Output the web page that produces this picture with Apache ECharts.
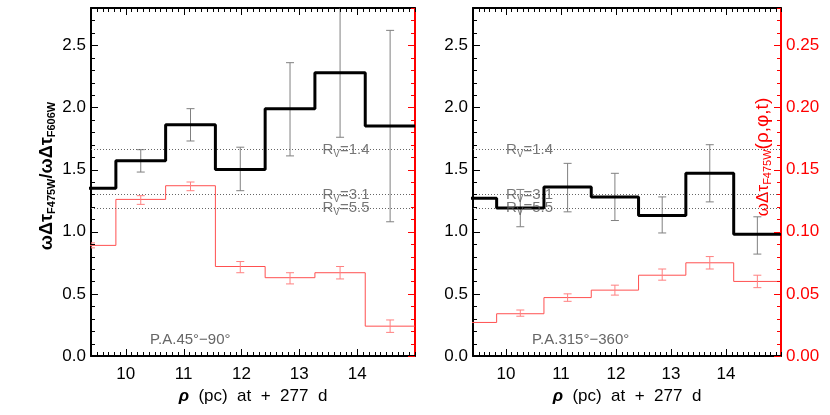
<!DOCTYPE html>
<html>
<head>
<meta charset="utf-8">
<script src="https://cdn.jsdelivr.net/npm/echarts@6/dist/echarts.min.js"></script>
<style>
  html, body { margin: 0; padding: 0; background: #fff; }
  #chart { width: 830px; height: 415px; }
</style>
</head>
<body>
<div id="chart"></div>
<script>
// radial bins (pc), edges of the histogram
const binEdges = [8.97, 9.83, 10.69, 11.55, 12.41, 13.27, 14.14, 15.0];

// P.A. 45-90 (left panel)
const ratioA = [1.35, 1.57, 1.86, 1.50, 1.99, 2.28, 1.85];
const ratioALo = [null, 1.48, 1.73, 1.33, 1.61, 1.76, 1.08];
const ratioAHi = [null, 1.66, 1.99, 1.68, 2.36, 2.85, 2.62];
const tauA = [0.089, 0.126, 0.137, 0.072, 0.063, 0.067, 0.024];
const tauALo = [0.087, 0.122, 0.133, 0.067, 0.058, 0.062, 0.019];
const tauAHi = [0.091, 0.129, 0.140, 0.076, 0.067, 0.072, 0.029];

// P.A. 315-360 (right panel)
const ratioB = [1.27, 1.19, 1.36, 1.28, 1.13, 1.47, 0.98];
const ratioBLo = [null, 1.04, 1.16, 1.09, 0.99, 1.24, 0.82];
const ratioBHi = [null, 1.34, 1.55, 1.47, 1.28, 1.70, 1.12];
const tauB = [0.027, 0.034, 0.047, 0.053, 0.065, 0.075, 0.060];
const tauBLo = [null, 0.032, 0.044, 0.049, 0.061, 0.070, 0.055];
const tauBHi = [null, 0.037, 0.050, 0.057, 0.070, 0.080, 0.065];

// extinction law reference ratios
const rvValues = [1.66, 1.30, 1.19];
const rvNames = ['1.4', '3.1', '5.5'];

// axes
const xMin = 9.4, xMax = 15;
const xTicks = [10, 11, 12, 13, 14];
const yMax = 2.8, redMax = 0.28;
const FONT = 'Liberation Sans, Arial, sans-serif';

// tick positions (major + minor)
const range = (a, b, s) => { const r = []; for (let k = Math.round(a / s); k <= Math.round(b / s); k++) r.push(+(k * s).toFixed(4)); return r; };
const xMinorTicks = range(xMin, xMax, 0.1);
const yMinorTicks = range(0, yMax, 0.1);
const yMajorTicks = range(0, 2.5, 0.5);
const redMinorTicks = range(0, redMax, 0.01);
const redMajorTicks = range(0, 0.25, 0.05);

const chart = echarts.init(document.getElementById('chart'), null, { renderer: 'canvas' });

function stepData(vals) {
  const d = vals.map((v, i) => [binEdges[i], v]);
  d.push([binEdges[binEdges.length - 1], vals[vals.length - 1]]);
  return d;
}
function errData(lo, hi) {
  const out = [];
  lo.forEach((l, i) => {
    if (l != null) out.push([(binEdges[i] + binEdges[i + 1]) / 2, l, hi[i]]);
  });
  return out;
}
function errRender(color) {
  return function (params, api) {
    const x = api.value(0);
    const a = api.coord([x, api.value(1)]);
    const b = api.coord([x, api.value(2)]);
    const w = 4;
    const st = { stroke: color, lineWidth: 1 };
    return {
      type: 'group',
      children: [
        { type: 'line', shape: { x1: a[0], y1: a[1], x2: b[0], y2: b[1] }, style: st },
        { type: 'line', shape: { x1: a[0] - w, y1: a[1], x2: a[0] + w, y2: a[1] }, style: st },
        { type: 'line', shape: { x1: b[0] - w, y1: b[1], x2: b[0] + w, y2: b[1] }, style: st }
      ]
    };
  };
}

const grids = [
  { left: 91, top: 8, width: 324, height: 348 },
  { left: 473, top: 8, width: 308, height: 348 }
];

const xAxes = [];
const yAxes = [];
grids.forEach((g, gi) => {
  xAxes.push({
    gridIndex: gi, type: 'value', min: xMin, max: xMax, position: 'bottom',
    splitLine: { show: false },
    axisLine: { show: true, onZero: false, lineStyle: { color: '#000', width: 2 } },
    axisTick: { show: false },
    axisLabel: { customValues: xTicks, color: '#000', fontSize: 17, fontFamily: FONT, margin: 10 },
    name: '{b|ρ}  (pc)  at  +  277  d',
    nameLocation: 'middle', nameGap: 30,
    nameTextStyle: {
      color: '#000', fontSize: 17, fontFamily: FONT,
      rich: { b: { fontSize: 17, fontWeight: 'bold', fontStyle: 'italic', fontFamily: FONT, color: '#000' } }
    }
  });
  xAxes.push({
    gridIndex: gi, type: 'value', min: xMin, max: xMax, position: 'top',
    splitLine: { show: false },
    axisLine: { show: true, onZero: false, lineStyle: { color: '#000', width: 2 } },
    axisTick: { show: false },
    axisLabel: { show: false }
  });
  yAxes.push({
    gridIndex: gi, type: 'value', position: 'left', min: 0, max: yMax, interval: 0.5,
    splitLine: { show: false },
    axisLine: { show: true, onZero: false, lineStyle: { color: '#000', width: 2 } },
    axisTick: { show: false },
    axisLabel: {
      color: '#000', fontSize: 17, fontFamily: FONT, margin: 5, showMaxLabel: false,
      formatter: v => v.toFixed(1)
    }
  });
  yAxes.push({
    gridIndex: gi, type: 'value', position: 'right', min: 0, max: redMax, interval: 0.05,
    splitLine: { show: false },
    axisLine: { show: true, onZero: false, lineStyle: { color: '#ff0000', width: 2 } },
    axisTick: { show: false },
    axisLabel: {
      show: gi === 1, color: '#ff0000', fontSize: 17, fontFamily: FONT, margin: 5, showMaxLabel: false,
      formatter: v => v.toFixed(2)
    }
  });
});

const rvRich = {
  r: { fontSize: 15, fontFamily: FONT, color: '#555' },
  v: { fontSize: 10, fontFamily: FONT, color: '#555', padding: [9, 0, 0, 0] }
};

function panelSeries(gi, ratio, rLo, rHi, tau, tLo, tHi, rvX) {
  const xi = gi * 2, yl = gi * 2, yr = gi * 2 + 1;
  return [
    {
      type: 'line', xAxisIndex: xi, yAxisIndex: yl, step: 'end',
      data: stepData(ratio), symbol: 'none',
      lineStyle: { color: '#000', width: 3 },
      z: 5,
      markLine: {
        silent: true, symbol: ['none', 'none'], label: { show: false },
        lineStyle: { color: '#666', type: [1, 2], width: 1 },
        data: rvValues.map(v => ({ yAxis: v }))
      }
    },
    {
      type: 'line', xAxisIndex: xi, yAxisIndex: yr, step: 'end',
      data: stepData(tau), symbol: 'none',
      lineStyle: { color: '#ff5050', width: 1 }, z: 3
    },
    {
      type: 'custom', xAxisIndex: xi, yAxisIndex: yl, clip: true,
      data: errData(rLo, rHi), renderItem: errRender('#808080'), z: 4
    },
    {
      type: 'custom', xAxisIndex: xi, yAxisIndex: yr, clip: true,
      data: errData(tLo, tHi), renderItem: errRender('#ff8080'), z: 4
    },
    {
      type: 'scatter', xAxisIndex: xi, yAxisIndex: yl, symbolSize: 0, silent: true,
      data: rvValues.map((v, i) => [rvX, v, rvNames[i]]),
      label: {
        show: true, position: 'right', distance: 0,
        formatter: p => '{r|R}{v|V}{r|=' + p.data[2] + '}',
        rich: rvRich
      },
      z: 6
    }
  ];
}

const series = [].concat(
  panelSeries(0, ratioA, ratioALo, ratioAHi, tauA, tauALo, tauAHi, 13.4),
  panelSeries(1, ratioB, ratioBLo, ratioBHi, tauB, tauBLo, tauBHi, 10.0)
);

chart.setOption({
  backgroundColor: '#fff',
  animation: false,
  grid: grids,
  xAxis: xAxes,
  yAxis: yAxes,
  series: series
});

// text annotations
const texts = [
  {
    type: 'text', x: 150, y: 340,
    style: { text: 'P.A.45°−90°', fill: '#666', font: '15px ' + FONT, verticalAlign: 'middle' }
  },
  {
    type: 'text', x: 532, y: 340,
    style: { text: 'P.A.315°−360°', fill: '#666', font: '15px ' + FONT, verticalAlign: 'middle' }
  },
  {
    type: 'text', x: 47, y: 176, rotation: Math.PI / 2,
    style: {
      text: '{m|ωΔτ}{s|F475W}{m|/ωΔτ}{s|F606W}',
      align: 'center', verticalAlign: 'middle',
      rich: {
        m: { fontSize: 18, fontWeight: 'bold', fontFamily: FONT, fill: '#000', color: '#000' },
        s: { fontSize: 11, fontWeight: 'bold', fontFamily: FONT, fill: '#000', color: '#000', padding: [9, 0, 0, 0] }
      }
    }
  },
  {
    type: 'text', x: 763, y: 157, rotation: Math.PI / 2,
    style: {
      text: '{m|ωΔτ}{s|F475W}{p|(ρ,φ,t)}',
      align: 'center', verticalAlign: 'middle',
      rich: {
        m: { fontSize: 17, fontFamily: FONT, fill: '#ff0000', color: '#ff0000' },
        s: { fontSize: 11, fontFamily: FONT, fill: '#ff0000', color: '#ff0000', padding: [9, 0, 0, 0] },
        p: { fontSize: 19, fontFamily: FONT, fill: '#ff0000', color: '#ff0000' }
      }
    }
  }
];

// inward tick marks, placed through the axes' own scales
const ticks = [];
function tickLine(x1, y1, x2, y2, color) {
  ticks.push({ type: 'line', z: 100, silent: true,
    shape: { x1: x1, y1: y1, x2: x2, y2: y2 }, style: { stroke: color, lineWidth: 1 } });
}
grids.forEach((g, gi) => {
  const yb = g.top + g.height, yt = g.top;
  const xl = g.left, xr = g.left + g.width;
  xMinorTicks.forEach(v => {
    const isMajor = xTicks.indexOf(v) >= 0;
    const len = isMajor ? 7 : 4;
    const px = Math.round(chart.convertToPixel({ xAxisIndex: gi * 2 }, v)) + 0.5;
    tickLine(px, yb, px, yb - len, '#000');
    tickLine(px, yt, px, yt + len, '#000');
  });
  yMinorTicks.forEach(v => {
    const len = yMajorTicks.indexOf(v) >= 0 ? 7 : 4;
    const py = Math.round(chart.convertToPixel({ yAxisIndex: gi * 2 }, v)) + 0.5;
    tickLine(xl, py, xl + len, py, '#000');
  });
  redMinorTicks.forEach(v => {
    const len = redMajorTicks.indexOf(v) >= 0 ? 7 : 4;
    const py = Math.round(chart.convertToPixel({ yAxisIndex: gi * 2 + 1 }, v)) + 0.5;
    tickLine(xr, py, xr - len, py, '#ff0000');
  });
});

chart.setOption({ graphic: texts.concat(ticks) });
</script>
</body>
</html>
